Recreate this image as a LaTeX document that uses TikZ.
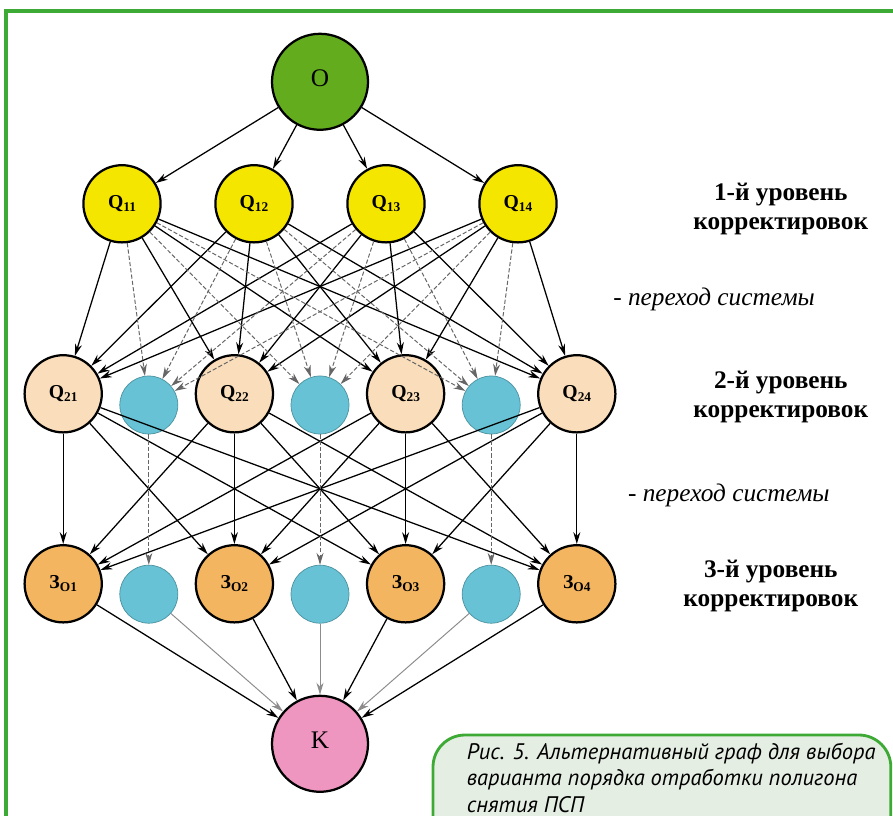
\documentclass[tikz,border=0pt]{standalone}
\usepackage{fontspec}
\setmainfont{Liberation Serif}
\newfontfamily\capfont{PT Sans}
\usetikzlibrary{arrows.meta}

\definecolor{ramka}{RGB}{61,170,53}
\definecolor{podpis}{RGB}{229,238,226}
\definecolor{nachalo}{RGB}{98,172,30}
\definecolor{uroven1}{RGB}{245,230,0}
\definecolor{uroven2}{RGB}{250,221,186}
\definecolor{uroven3}{RGB}{244,181,96}
\definecolor{perehod}{RGB}{102,194,212}
\definecolor{konec}{RGB}{238,150,192}

\newcommand{\indeks}[2]{\textbf{#1}\raisebox{-0.35ex}{\fontsize{9.5}{9.5}\selectfont\textbf{#2}}}

\begin{document}
\begin{tikzpicture}[
		krug/.style = {circle, draw = black, line width = 1.6pt, inner sep = 0pt, minimum size = 1.93cm, font = \fontsize{14}{14}\selectfont},
		bolshoy/.style = {krug, minimum size = 2.4cm, font = \fontsize{18}{18}\selectfont},
		sys/.style = {circle, fill = perehod, draw = perehod!75!black, line width = 0.5pt, inner sep = 0pt, minimum size = 1.45cm},
		arr/.style = {-{Stealth[length = 8.5pt, width = 5pt]}, line width = 0.9pt},
		arrsys/.style = {arr, draw = black!60, line width = 0.7pt, dash pattern = on 3pt off 1.5pt},
		arrk/.style = {arr, draw = black!45, line width = 0.7pt},
		urov/.style = {align = center, font = \fontsize{18}{21}\selectfont\bfseries},
		pereh/.style = {font = \fontsize{18}{20}\selectfont\itshape}
	]
		\useasboundingbox (0,0) rectangle (22.325, 20.375);
		\draw [ramka, line width = 2.2pt] (0.15, -1) |- (23, 20.1);
		\draw [ramka, fill = podpis, line width = 2pt, rounded corners = 0.8cm] (10.825, -1) rectangle (22.27, 2.0);
		
		\node [bolshoy, fill = nachalo] (o) at (8, 18.33) {\raisebox{5pt}{O}};
		
		\node [krug, fill = uroven1] (q11) at (3.05, 15.28) {\indeks{Q}{11}};
		\node [krug, fill = uroven1] (q12) at (6.35, 15.28) {\indeks{Q}{12}};
		\node [krug, fill = uroven1] (q13) at (9.65, 15.28) {\indeks{Q}{13}};
		\node [krug, fill = uroven1] (q14) at (12.95, 15.28) {\indeks{Q}{14}};
		
		\node [krug, fill = uroven2] (q21) at (1.58, 10.53) {\indeks{Q}{21}};
		\node [sys] (p21) at (3.72, 10.25) {};
		\node [krug, fill = uroven2] (q22) at (5.86, 10.53) {\indeks{Q}{22}};
		\node [sys] (p22) at (8, 10.25) {};
		\node [krug, fill = uroven2] (q23) at (10.14, 10.53) {\indeks{Q}{23}};
		\node [sys] (p23) at (12.28, 10.25) {};
		\node [krug, fill = uroven2] (q24) at (14.42, 10.53) {\indeks{Q}{24}};
		
		\node [krug, fill = uroven3] (z1) at (1.58, 5.78) {\indeks{З}{О1}};
		\node [sys] (p31) at (3.72, 5.52) {};
		\node [krug, fill = uroven3] (z2) at (5.86, 5.78) {\indeks{З}{О2}};
		\node [sys] (p32) at (8, 5.52) {};
		\node [krug, fill = uroven3] (z3) at (10.14, 5.78) {\indeks{З}{О3}};
		\node [sys] (p33) at (12.28, 5.52) {};
		\node [krug, fill = uroven3] (z4) at (14.42, 5.78) {\indeks{З}{О4}};
		
		\node [bolshoy, fill = konec] (k) at (8, 1.78) {\raisebox{5pt}{K}};
		
		\draw [arr] (o) -- (q11);
		\draw [arr] (o) -- (q12);
		\draw [arr] (o) -- (q13);
		\draw [arr] (o) -- (q14);
		
		\draw [arr] (q11) -- (q21);
		\draw [arr] (q11) -- (q22);
		\draw [arr] (q11) -- (q23);
		\draw [arr] (q11) -- (q24);
		\draw [arr] (q12) -- (q21);
		\draw [arr] (q12) -- (q22);
		\draw [arr] (q12) -- (q23);
		\draw [arr] (q12) -- (q24);
		\draw [arr] (q13) -- (q21);
		\draw [arr] (q13) -- (q22);
		\draw [arr] (q13) -- (q23);
		\draw [arr] (q13) -- (q24);
		\draw [arr] (q14) -- (q21);
		\draw [arr] (q14) -- (q22);
		\draw [arr] (q14) -- (q23);
		\draw [arr] (q14) -- (q24);
		
		\draw [arrsys] (q11) -- (p21);
		\draw [arrsys] (q11) -- (p22);
		\draw [arrsys] (q11) -- (p23);
		\draw [arrsys] (q12) -- (p21);
		\draw [arrsys] (q12) -- (p22);
		\draw [arrsys] (q12) -- (p23);
		\draw [arrsys] (q13) -- (p21);
		\draw [arrsys] (q13) -- (p22);
		\draw [arrsys] (q13) -- (p23);
		\draw [arrsys] (q14) -- (p21);
		\draw [arrsys] (q14) -- (p22);
		\draw [arrsys] (q14) -- (p23);
		
		\draw [arr] (q21) -- (z1);
		\draw [arr] (q21) -- (z2);
		\draw [arr] (q21) -- (z3);
		\draw [arr] (q21) -- (z4);
		\draw [arr] (q22) -- (z1);
		\draw [arr] (q22) -- (z2);
		\draw [arr] (q22) -- (z3);
		\draw [arr] (q22) -- (z4);
		\draw [arr] (q23) -- (z1);
		\draw [arr] (q23) -- (z2);
		\draw [arr] (q23) -- (z3);
		\draw [arr] (q23) -- (z4);
		\draw [arr] (q24) -- (z1);
		\draw [arr] (q24) -- (z2);
		\draw [arr] (q24) -- (z3);
		\draw [arr] (q24) -- (z4);
		
		\draw [arrsys] (p21) -- (p31);
		\draw [arrsys] (p22) -- (p32);
		\draw [arrsys] (p23) -- (p33);
		
		\draw [arr] (z1) -- (k);
		\draw [arrk] (p31) -- (k);
		\draw [arr] (z2) -- (k);
		\draw [arrk] (p32) -- (k);
		\draw [arr] (z3) -- (k);
		\draw [arrk] (p33) -- (k);
		\draw [arr] (z4) -- (k);
		
		\node [urov] (u1) at (19.52, 15.15) {1-й уровень\\корректировок};
		\node [pereh] (t1) at (17.85, 12.9) {- переход системы};
		\node [urov] (u2) at (19.52, 10.45) {2-й уровень\\корректировок};
		\node [pereh] (t2) at (18.22, 7.98) {- переход системы};
		\node [urov] (u3) at (19.27, 5.72) {3-й уровень\\корректировок};
		
		\node [anchor = north west, align = left, font = \capfont\itshape\fontsize{16}{19}\selectfont] (cap) at (11.55, 1.93) {Рис. 5. Альтернативный граф для выбора\\варианта порядка отработки полигона\\снятия ПСП};
		
		\end{tikzpicture}
\end{document}
